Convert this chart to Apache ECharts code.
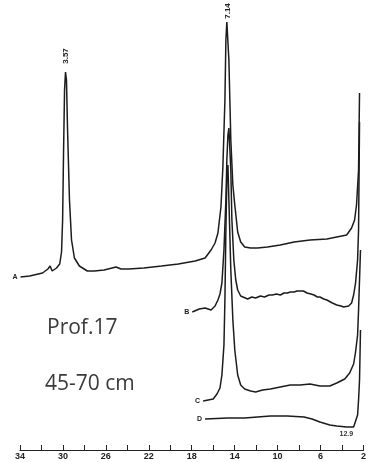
<!DOCTYPE html>
<html>
<head>
<meta charset="utf-8">
<script src="https://cdn.jsdelivr.net/npm/echarts@6/dist/echarts.min.js"></script>
<style>
html, body { margin: 0; padding: 0; background: #fff; }
#chart { width: 369px; height: 462px; }
</style>
</head>
<body>
<div id="chart"></div>
<script>
// 2theta (deg) and intensity (arbitrary, stacked offsets)
var thetaA = [33.95, 33.1, 31.9, 31.4, 31.2, 31.0, 30.6, 30.3, 30.13, 30.03, 29.94, 29.85, 29.76, 29.67, 29.57, 29.39, 29.2, 28.93, 28.47, 27.73, 27.08, 26.16, 25.05, 24.59, 23.86, 22.47, 20.81, 19.25, 17.68, 16.76, 16.2, 15.83, 15.56, 15.28, 15.1, 14.91, 14.82, 14.73, 14.63, 14.54, 14.45, 14.36, 14.17, 13.99, 13.72, 13.44, 13.07, 12.51, 11.87, 10.95, 9.75, 8.46, 6.98, 5.41, 4.49, 3.57, 3.11, 2.83, 2.65, 2.46, 2.37];
var intA   = [173, 174, 177, 181, 184, 179, 182, 186, 198, 230, 300, 360, 378, 370, 320, 250, 210, 192, 184, 179, 179, 180, 183, 181, 181, 182, 184, 186, 189, 192, 200, 207, 217, 243, 283, 350, 410, 428, 428, 390, 350, 310, 265, 245, 218, 208, 203, 202, 202, 203, 205, 208, 210, 211, 213, 215, 222, 230, 245, 280, 357];

var thetaB = [17.95, 17.3, 16.76, 16.2, 15.83, 15.56, 15.37, 15.19, 15.0, 14.82, 14.73, 14.63, 14.54, 14.45, 14.36, 14.26, 14.08, 13.9, 13.72, 13.44, 12.79, 12.4, 12.05, 11.6, 11.22, 10.8, 10.5, 10.1, 9.75, 9.4, 9.1, 8.8, 8.46, 8.2, 7.9, 7.6, 7.26, 6.9, 6.61, 6.3, 6.06, 5.7, 5.41, 4.9, 4.49, 4.1, 3.85, 3.38, 3.11, 2.92, 2.74, 2.55, 2.46, 2.37];
var intB   = [138, 141, 142, 140, 144, 150, 156, 167, 200, 250, 290, 315, 322, 320, 280, 230, 190, 170, 160, 154, 151, 153, 152, 154, 153, 155, 155, 156, 155, 157, 157, 158, 158, 159, 159, 159, 157, 156, 155, 153, 153, 151, 150, 147, 145, 144, 143, 144, 147, 155, 167, 190, 220, 328];

var thetaC = [16.94, 16.0, 15.65, 15.37, 15.19, 15.0, 14.91, 14.82, 14.73, 14.63, 14.54, 14.36, 14.17, 13.99, 13.72, 13.44, 13.07, 12.51, 12.05, 11.4, 10.67, 9.75, 8.82, 7.9, 6.98, 6.06, 5.14, 4.49, 3.75, 3.29, 2.92, 2.74, 2.55, 2.46, 2.28];
var intC   = [49, 51, 56, 62, 75, 105, 150, 220, 270, 285, 250, 180, 130, 100, 75, 65, 61, 59, 58, 60, 61, 63, 65, 65, 66, 64, 64, 67, 71, 77, 86, 98, 115, 140, 200];

var thetaD = [16.76, 14.63, 13.07, 11.87, 10.67, 9.1, 7.53, 6.8, 6.06, 5.14, 4.49, 3.57, 2.92, 2.74, 2.55, 2.46, 2.37, 2.28];
var intD   = [31, 32, 32, 33, 34, 34, 33, 31, 28, 25, 24, 23, 23, 25, 35, 50, 70, 120];

var curveNames = ['A', 'B', 'C', 'D'];
var peakLabels = [{ text: '3.57', theta: 29.76, value: 378, gap: 16 }, { text: '7.14', theta: 14.68, value: 428, gap: 11 }];
var tickLabels = [34, 30, 26, 22, 18, 14, 10, 6, 2];
var beamLabel = { text: '12.9', theta: 3.6, value: 16 };

var lineColor = '#1c1c1c';

function pairs(t, v) {
  var out = [];
  for (var i = 0; i < t.length; i++) out.push([t[i], v[i]]);
  return out;
}

var curves = [pairs(thetaA, intA), pairs(thetaB, intB), pairs(thetaC, intC), pairs(thetaD, intD)];

var series = curves.map(function (data, k) {
  var marks = [{
    coord: data[0],
    label: { show: true, position: 'left', distance: 3, formatter: curveNames[k], fontSize: 7, fontWeight: 'bold', color: '#222' }
  }];
  // d-spacing labels above the main peaks of A (offset is in the rotated frame)
  if (k === 0) {
    peakLabels.forEach(function (p) {
      marks.push({
        coord: [p.theta, p.value],
        label: { show: true, position: 'inside', offset: [p.gap, 0], rotate: 90, formatter: p.text, fontSize: 8, fontWeight: 'bold', color: '#222' }
      });
    });
  }
  if (k === 3) {
    marks.push({
      coord: [beamLabel.theta, beamLabel.value],
      label: { show: true, position: 'inside', formatter: beamLabel.text, fontSize: 7, fontWeight: 'bold', color: '#333' }
    });
  }
  return {
    type: 'line',
    name: curveNames[k],
    data: data,
    symbol: 'none',
    smooth: false,
    lineStyle: { color: lineColor, width: 1.5 },
    markPoint: { symbol: 'circle', symbolSize: 0, silent: true, data: marks },
    z: 2
  };
});

var chart = echarts.init(document.getElementById('chart'));
chart.setOption({
  animation: false,
  backgroundColor: '#fff',
  grid: { left: 20, right: 2, top: 0, bottom: 12 },
  xAxis: {
    type: 'value',
    inverse: true,
    min: 2,
    max: 34,
    interval: 2,
    axisLine: { show: true, lineStyle: { color: '#222', width: 1 } },
    axisTick: { show: true, inside: true, length: 5, lineStyle: { color: '#222' } },
    axisLabel: {
      margin: 2,
      fontSize: 9,
      fontWeight: 'bold',
      color: '#222',
      formatter: function (v) { return tickLabels.indexOf(v) >= 0 ? String(v) : ''; }
    },
    splitLine: { show: false }
  },
  yAxis: { type: 'value', min: 0, max: 450, show: false },
  graphic: [
    { type: 'text', left: 47, top: 318, style: { text: 'Prof.17', font: '21px "Open Sans"', fill: '#3a3a3a' } },
    { type: 'text', left: 45, top: 374, style: { text: '45-70 cm', font: '21px "Open Sans"', fill: '#3a3a3a' } }
  ],
  series: series
});
</script>
</body>
</html>
